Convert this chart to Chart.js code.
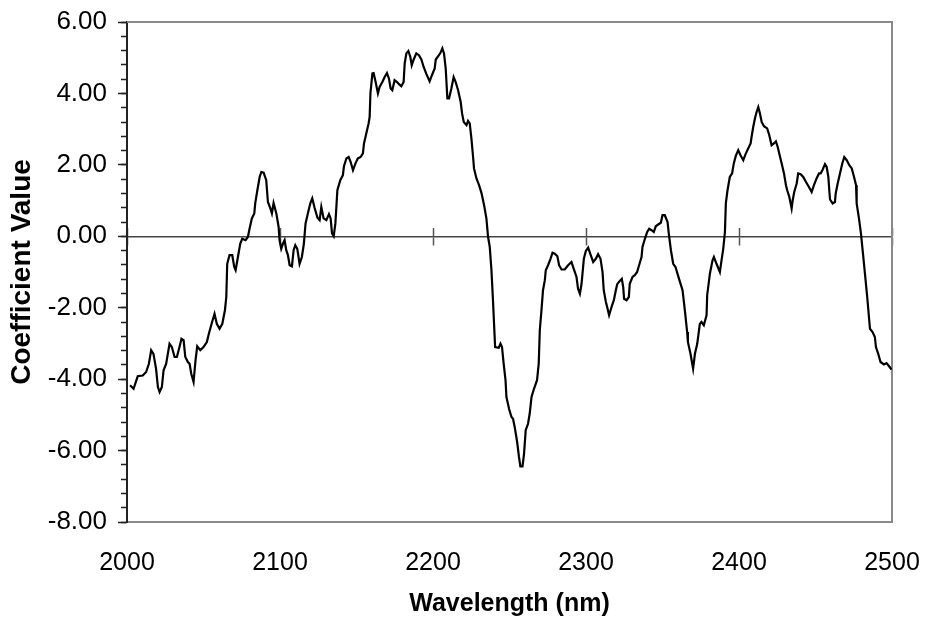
<!DOCTYPE html>
<html>
<head>
<meta charset="utf-8">
<script src="https://cdn.jsdelivr.net/npm/chart.js@4.4.1/dist/chart.umd.min.js"></script>
<style>
  html, body { margin: 0; padding: 0; background: #fff; }
  canvas { display: block; }
</style>
</head>
<body>
<canvas id="c" width="926" height="622"></canvas>
<script>
// ---- data ----
const wavelengths = [
  2002, 2004.3, 2007, 2010.3, 2012.5, 2014.3, 2015.8, 2017.3, 2019, 2020.2,
  2021.3, 2022.8, 2023.9, 2025.6, 2027.8, 2029.3, 2031.1, 2032.6, 2034.3, 2035.6,
  2037, 2038.1, 2039.8, 2040.9, 2042, 2043.5, 2044.8, 2045.9, 2047.9, 2050,
  2052.2, 2053.5, 2055.3, 2057.2, 2058.7, 2060.5, 2062.3, 2064, 2064.9, 2065.5,
  2067, 2068.8, 2070.1, 2071, 2072.5, 2074, 2075.3, 2077.5, 2079, 2080.1,
  2081.6, 2083.2, 2083.8, 2085.2, 2086.7, 2087.8, 2089.3, 2091, 2092.1, 2093.7,
  2094.7, 2095.8, 2097.6, 2099.1, 2099.7, 2100.8, 2101.9, 2103, 2104.1, 2105.2,
  2106.3, 2107.8, 2108.9, 2110, 2111.3, 2112.8, 2114.3, 2115.6, 2116.7, 2118.2,
  2119.8, 2121.1, 2122.6, 2124.5, 2125.9, 2127, 2128.5, 2130.3, 2132, 2133.1,
  2134, 2135.1, 2136.2, 2137.5, 2139.4, 2141.1, 2141.8, 2143.4, 2144.9, 2146.2,
  2147.7, 2149.4, 2150.9, 2152.7, 2154.2, 2154.9, 2156.4, 2157.9, 2158.6, 2159.1,
  2160.4, 2161.2, 2162.5, 2164, 2165.1, 2166.9, 2168.4, 2169.9, 2171.2, 2172.3,
  2173.4, 2174.9, 2176.5, 2177.8, 2179.3, 2180.8, 2181.5, 2182.6, 2183.9, 2185.2,
  2186.1, 2187.4, 2189.1, 2190.8, 2192.4, 2193.9, 2195.7, 2197.8, 2199.3, 2201.1,
  2201.8, 2203.3, 2204.8, 2206.1, 2207.2, 2208.3, 2209.4, 2210.5, 2212, 2213.5,
  2214.8, 2216.4, 2218.1, 2219, 2220.1, 2221.9, 2222.9, 2224, 2225.1, 2226.2,
  2226.8, 2228.4, 2230.1, 2231.7, 2233.4, 2234.9, 2236, 2237.1, 2238.2, 2239.2,
  2239.9, 2240.6, 2243, 2244.1, 2245.1, 2246.2, 2247.4, 2248, 2249.7, 2251.3,
  2252.3, 2253.4, 2255, 2256.2, 2257.1, 2258.5, 2259.5, 2260.6, 2262.1, 2263.2,
  2264.4, 2266, 2268, 2269.1, 2269.8, 2270.9, 2271.9, 2273.1, 2273.7, 2275.2,
  2276.8, 2278.1, 2279.6, 2281.3, 2282.4, 2284, 2286.1, 2288.3, 2290.5, 2292,
  2293.8, 2294.8, 2296, 2297.1, 2298.6, 2299.9, 2301.4, 2303.1, 2304.7, 2306.4,
  2307.9, 2309.5, 2310.8, 2311.6, 2313, 2314.1, 2315.1, 2316.7, 2318.2, 2319.5,
  2320.4, 2322.1, 2323.4, 2324.3, 2324.9, 2326.5, 2328, 2328.6, 2330.4, 2331.9,
  2333.4, 2334.7, 2336.3, 2336.9, 2338.5, 2340, 2341.3, 2342.8, 2344.3, 2345.6,
  2347.2, 2348.9, 2350, 2351.5, 2353.3, 2354.1, 2355.5, 2357, 2358.5, 2361,
  2363.1, 2364.6, 2366.1, 2366.6, 2368.3, 2370, 2371.2, 2372.7, 2374.4, 2375.5,
  2377, 2378.8, 2379.2, 2381, 2382.7, 2383.6, 2385.3, 2387.5, 2388.6, 2389.7,
  2390.8, 2391.4, 2392.5, 2394, 2395.5, 2396.6, 2397.9, 2399.5, 2401, 2402.8,
  2404.3, 2406, 2407.6, 2408.2, 2409.3, 2410.4, 2411.5, 2412.6, 2413.7, 2414.8,
  2416.3, 2418.4, 2419.8, 2421.3, 2422.8, 2424.1, 2425.3, 2426.3, 2427.9, 2429.4,
  2430.7, 2431.5, 2432.9, 2434.4, 2435.1, 2436.1, 2437.7, 2438.7, 2440.3, 2442,
  2443.8, 2445.7, 2447.5, 2449, 2450.7, 2452.3, 2453.4, 2454.7, 2456.2, 2457.3,
  2458.4, 2459, 2459.5, 2461.2, 2462.7, 2463.2, 2464.5, 2466, 2467.5, 2468.8,
  2470.4, 2472.1, 2473.7, 2475.2, 2476.5, 2476.9, 2478.4, 2479.7, 2480.8, 2482.3,
  2483.8, 2485.6, 2487.3, 2488.8, 2489.5, 2491, 2492.5, 2494.7, 2496.4, 2498.1,
  2499.7
];
const coefficients = [
  -4.17, -4.27, -3.92, -3.90, -3.80, -3.57, -3.19, -3.29, -3.71, -4.22,
  -4.36, -4.22, -3.75, -3.57, -3.01, -3.10, -3.38, -3.38, -3.10, -2.87,
  -2.91, -3.38, -3.52, -3.57, -3.85, -4.08, -3.47, -3.08, -3.19, -3.10,
  -2.96, -2.73, -2.45, -2.17, -2.45, -2.59, -2.45, -2.07, -1.70, -0.77,
  -0.53, -0.53, -0.86, -0.95, -0.58, -0.21, -0.07, -0.11, -0.02, 0.21,
  0.50, 0.64, 0.92, 1.29, 1.66, 1.80, 1.78, 1.57, 0.96, 0.78,
  0.64, 0.93, 0.64, 0.26, -0.11, -0.35, -0.21, -0.11, -0.39, -0.53,
  -0.81, -0.84, -0.39, -0.25, -0.35, -0.77, -0.58, -0.21, 0.36, 0.64,
  0.92, 1.06, 0.80, 0.52, 0.45, 0.82, 0.50, 0.45, 0.62, 0.50,
  0.08, 0.00, 0.36, 1.29, 1.57, 1.71, 1.96, 2.18, 2.22, 2.08,
  1.85, 2.05, 2.18, 2.22, 2.32, 2.60, 2.88, 3.16, 3.34, 4.00,
  4.56, 4.57, 4.32, 4.00, 4.18, 4.32, 4.46, 4.57, 4.42, 4.14,
  4.09, 4.37, 4.32, 4.26, 4.20, 4.32, 4.84, 5.12, 5.19, 5.02,
  4.79, 4.95, 5.12, 5.07, 4.95, 4.74, 4.54, 4.34, 4.51, 4.70,
  4.95, 5.04, 5.13, 5.26, 5.12, 4.70, 3.86, 3.86, 4.14, 4.46,
  4.32, 4.09, 3.76, 3.44, 3.20, 3.11, 3.23, 3.16, 2.74, 2.22,
  1.90, 1.62, 1.43, 1.21, 0.87, 0.50, -0.02, -0.30, -0.95, -1.79,
  -2.45, -3.10, -3.12, -3.01, -3.10, -3.57, -4.03, -4.50, -4.83, -5.06,
  -5.11, -5.34, -5.76, -6.18, -6.44, -6.44, -6.09, -5.43, -5.25, -4.97,
  -4.50, -4.27, -4.03, -3.57, -2.63, -2.07, -1.51, -1.23, -0.95, -0.81,
  -0.63, -0.46, -0.49, -0.56, -0.81, -0.93, -0.93, -0.81, -0.72, -0.91,
  -1.14, -1.47, -1.61, -1.33, -0.63, -0.41, -0.32, -0.53, -0.72, -0.63,
  -0.50, -0.63, -1.00, -1.51, -1.84, -2.03, -2.21, -1.98, -1.79, -1.51,
  -1.34, -1.25, -1.19, -1.42, -1.75, -1.79, -1.70, -1.33, -1.14, -1.09,
  -1.00, -0.81, -0.58, -0.30, -0.07, 0.12, 0.21, 0.17, 0.12, 0.28,
  0.33, 0.38, 0.59, 0.59, 0.40, 0.08, -0.39, -0.77, -0.86, -1.22,
  -1.51, -2.07, -2.68, -2.96, -3.29, -3.71, -3.29, -3.01, -2.45, -2.40,
  -2.49, -2.21, -1.65, -1.04, -0.67, -0.58, -0.77, -1.00, -0.67, -0.35,
  0.12, 0.92, 1.29, 1.66, 1.76, 2.04, 2.25, 2.41, 2.27, 2.13,
  2.30, 2.46, 2.60, 2.78, 3.06, 3.30, 3.48, 3.62, 3.44, 3.20,
  3.08, 3.02, 2.83, 2.55, 2.60, 2.66, 2.50, 2.32, 2.04, 1.76,
  1.43, 1.29, 1.10, 0.78, 1.01, 1.24, 1.48, 1.76, 1.74, 1.66,
  1.52, 1.38, 1.24, 1.43, 1.62, 1.76, 1.76, 1.87, 2.02, 1.94,
  1.66, 1.29, 1.03, 0.92, 0.96, 1.20, 1.48, 1.76, 2.04, 2.22,
  2.13, 1.99, 1.90, 1.66, 1.43, 0.92, 0.50, 0.08, -0.39, -1.04,
  -1.70, -2.59, -2.68, -2.82, -3.10, -3.29, -3.52, -3.59, -3.55, -3.64,
  -3.73
];
const xTickValues = [2000, 2100, 2200, 2300, 2400, 2500];
const yTickValues = [-8, -6, -4, -2, 0, 2, 4, 6];
const yMinorStep = 0.4;

const FONT = "'Liberation Sans', Arial, Helvetica, sans-serif";
Chart.defaults.font.family = FONT;
Chart.defaults.color = '#000';

const points = wavelengths.map((x, i) => ({ x: x, y: coefficients[i] }));
const setXTicks = s => { s.ticks = xTickValues.map(v => ({ value: v })); };
const setYTicks = s => { s.ticks = yTickValues.map(v => ({ value: v })); };

const framePlugin = {
  id: 'frame',
  beforeDatasetsDraw(chart) {
    const { ctx, chartArea: a } = chart;
    ctx.save();
    ctx.strokeStyle = '#8a8a8a';
    ctx.lineWidth = 2;
    ctx.beginPath();
    ctx.moveTo(a.left, a.top);
    ctx.lineTo(a.right, a.top);
    ctx.lineTo(a.right, a.bottom);
    ctx.stroke();
    ctx.restore();
  }
};

new Chart(document.getElementById('c'), {
  type: 'line',
  data: {
    datasets: [{
      data: points,
      xAxisID: 'x',
      yAxisID: 'y',
      borderColor: '#000',
      borderWidth: 2.2,
      pointRadius: 0,
      tension: 0,
      fill: false
    }]
  },
  options: {
    responsive: false,
    animation: false,
    devicePixelRatio: 1,
    layout: { padding: { top: 22, right: 34, left: 0, bottom: 0 } },
    plugins: { legend: { display: false }, tooltip: { enabled: false } },
    scales: {
      x: {
        type: 'linear', position: 'bottom', min: 2000, max: 2500,
        afterBuildTicks: setXTicks,
        grid: { display: true, drawOnChartArea: false, drawTicks: false },
        border: { color: '#8a8a8a', width: 2 },
        ticks: { padding: 26, color: '#000', font: { size: 25 }, maxRotation: 0, autoSkip: false,
                 callback: v => String(v) },
        title: { display: true, text: 'Wavelength (nm)', color: '#000',
                 font: { size: 25, weight: 'bold' }, padding: { top: 0, bottom: 3 } },
        afterFit: s => { s.height = 100; s.paddingLeft = 0; s.paddingRight = 0; }
      },
      xZeroDown: {
        type: 'linear', position: { y: 0 }, min: 2000, max: 2500,
        afterBuildTicks: setXTicks,
        grid: { drawOnChartArea: false, tickLength: 8, tickColor: '#555', tickWidth: 1.5 },
        border: { color: '#444', width: 1.5 },
        ticks: { display: false }
      },
      xZeroUp: {
        type: 'linear', position: { y: 0 }, min: 2000, max: 2500,
        afterBuildTicks: setXTicks,
        grid: { drawOnChartArea: false, tickLength: -8, tickColor: '#555', tickWidth: 1.5 },
        border: { display: false },
        ticks: { display: false }
      },
      y: {
        type: 'linear', position: 'left', weight: 1, min: -8, max: 6,
        afterBuildTicks: setYTicks,
        grid: { drawOnChartArea: false, tickLength: 9, tickColor: '#222', tickWidth: 1.5 },
        border: { color: '#222', width: 2 },
        ticks: { padding: 11, color: '#000', font: { size: 26 }, callback: v => Number(v).toFixed(2) },
        title: { display: true, text: 'Coefficient Value', color: '#000',
                 font: { size: 28, weight: 'bold' }, padding: { top: 5, bottom: 0 } },
        afterFit: s => { s.width = 127; s.paddingTop = 0; s.paddingBottom = 0; }
      },
      yMinor: {
        type: 'linear', position: 'left', weight: 0, min: -8, max: 6,
        grid: { drawOnChartArea: false, tickLength: 6, tickColor: '#222', tickWidth: 1.5 },
        border: { display: false },
        ticks: { display: false, stepSize: yMinorStep },
        afterFit: s => { s.width = 0; }
      }
    }
  },
  plugins: [framePlugin]
});
</script>
</body>
</html>
